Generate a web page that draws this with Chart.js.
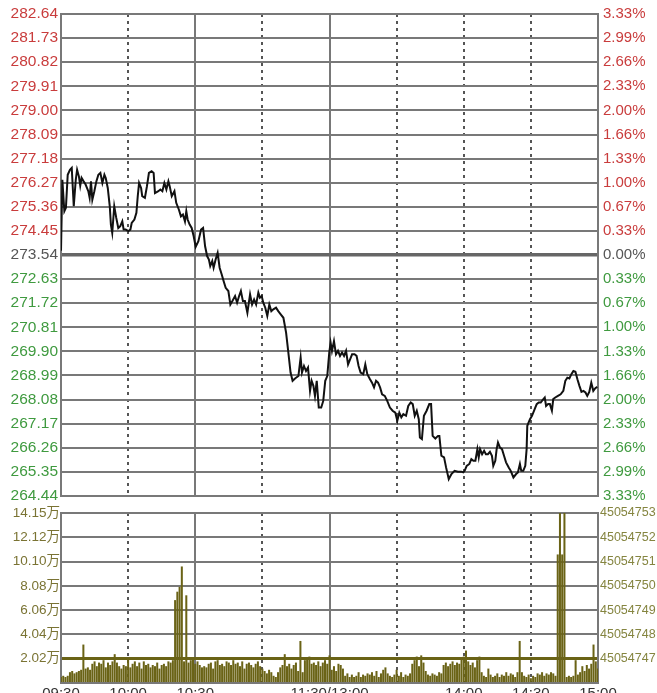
<!DOCTYPE html>
<html>
<head>
<meta charset="utf-8">
<script src="https://cdn.jsdelivr.net/npm/chart.js@4.4.0/dist/chart.umd.min.js"></script>
<style>
html, body { margin: 0; padding: 0; background: #fff; overflow: hidden; }
#wrap { position: relative; width: 657px; height: 693px; overflow: hidden; }
#priceBox { position: absolute; left: 0; top: 0; width: 657px; height: 510px; }
#volBox { position: absolute; left: 0; top: 500px; width: 657px; height: 205px; }
</style>
</head>
<body>
<div id="wrap">
  <div id="priceBox"><canvas id="priceCanvas"></canvas></div>
  <div id="volBox"><canvas id="volCanvas"></canvas></div>
</div>
<script>
// previous close, the 0.00% line
var PREV_CLOSE = 273.54;

// time axis, minutes after 09:30 (lunch break removed)
var timeTicks = [0, 30, 60, 90, 120, 150, 180, 210, 240];
var timeLabels = ['09:30', '10:00', '10:30', '', '11:30/13:00', '', '14:00', '14:30', '15:00'];
var solidTimes = [0, 60, 120, 240];

// price axis labels, top to bottom
var priceTickLabels = ['282.64', '281.73', '280.82', '279.91', '279.00', '278.09', '277.18',
  '276.27', '275.36', '274.45', '273.54', '272.63', '271.72', '270.81', '269.90', '268.99',
  '268.08', '267.17', '266.26', '265.35', '264.44'];
var pctTickLabels = ['3.33%', '2.99%', '2.66%', '2.33%', '2.00%', '1.66%', '1.33%', '1.00%',
  '0.67%', '0.33%', '0.00%', '0.33%', '0.67%', '1.00%', '1.33%', '1.66%', '2.00%', '2.33%',
  '2.66%', '2.99%', '3.33%'];

// intraday price line: minute and price
var priceTimes = [0, 0.6, 1.5, 2.2, 3.0, 4.0, 4.8, 5.7, 6.6, 7.2, 8.0, 8.6, 9.2, 10.1, 11.0,
  12.2, 12.8, 13.4, 14.0, 14.9, 15.8, 16.7, 17.6, 18.5, 19.4, 20.0, 20.9, 21.8, 22.3, 22.9,
  23.8, 24.7, 25.6, 26.5, 27.4, 28.0, 28.9, 30.1, 31.0, 31.6, 32.8, 33.7, 34.3, 34.9, 35.8,
  36.3, 37.5, 38.4, 39.3, 40.5, 41.4, 42.0, 43.5, 44.4, 45.3, 46.2, 47.1, 48.0, 48.6, 49.5,
  50.7, 51.5, 52.7, 53.6, 54.5, 55.4, 56.0, 56.6, 57.5, 58.4, 59.3, 60.2, 61.4, 62.6, 63.5,
  64.4, 65.3, 66.1, 66.7, 67.6, 68.2, 69.1, 70.0, 70.9, 71.8, 72.7, 73.6, 74.8, 75.7, 76.6,
  77.8, 78.7, 79.6, 80.4, 81.3, 82.2, 83.3, 84.5, 85.4, 86.3, 87.2, 88.2, 88.9, 89.7, 90.4,
  91.3, 92.2, 93.1, 94.0, 94.9, 96.1, 97.1, 98.2, 99.4, 100.6, 101.6, 102.6, 103.5, 104.6,
  106.1, 107.1, 107.7, 108.6, 109.5, 110.4, 111.3, 112.0, 112.8, 113.5, 114.3, 115.2, 116.3,
  117.2, 118.1, 119.0, 119.9, 120.5, 121.1, 122.0, 122.9, 123.8, 124.7, 125.6, 126.5, 127.4,
  128.3, 129.2, 130.1, 131.2, 132.1, 133.0, 133.9, 135.1, 136.0, 136.9, 138.1, 139.0, 139.9,
  140.8, 141.7, 142.6, 143.5, 144.7, 145.8, 147.0, 148.2, 149.4, 150.3, 151.2, 152.1, 153.0,
  154.2, 155.2, 156.3, 157.2, 158.1, 159.0, 159.9, 160.4, 161.3, 162.2, 163.4, 164.6, 165.4,
  166.1, 167.3, 168.5, 169.1, 170.0, 171.2, 172.1, 173.3, 174.5, 175.9, 177.4, 178.9, 179.8,
  180.4, 181.3, 182.5, 183.4, 184.3, 185.2, 186.1, 186.7, 187.3, 188.2, 189.1, 189.9, 190.8,
  191.7, 192.6, 193.2, 194.1, 194.7, 195.3, 196.2, 197.1, 198.0, 198.9, 200.1, 201.0, 202.2,
  203.4, 204.2, 205.1, 205.7, 206.6, 207.5, 208.1, 208.4, 209.6, 210.5, 211.7, 212.6, 213.5,
  214.4, 215.3, 216.2, 216.8, 217.7, 218.5, 219.4, 220.0, 220.9, 222.1, 223.3, 224.5, 225.4,
  226.3, 227.2, 228.1, 229.0, 229.9, 230.8, 231.7, 232.6, 233.5, 234.4, 235.2, 236.1, 237.0,
  237.9, 238.8, 239.7];
var prices = [273.70, 276.38, 275.19, 275.32, 276.57, 276.76, 276.83, 275.38, 276.38, 276.76,
  276.51, 276.16, 276.45, 276.32, 276.20, 275.95, 275.70, 276.32, 275.63, 275.95, 276.32,
  276.57, 276.64, 276.26, 276.57, 276.45, 276.07, 275.38, 274.69, 274.38, 275.38, 274.94,
  274.56, 274.63, 274.81, 274.50, 274.50, 274.44, 274.50, 274.75, 274.88, 275.13, 275.76,
  276.26, 276.07, 275.76, 275.70, 276.13, 276.64, 276.70, 276.64, 275.88, 275.95, 276.01,
  275.95, 276.26, 276.01, 276.32, 276.13, 275.76, 275.95, 275.51, 275.25, 275.00, 275.07,
  274.81, 275.19, 274.88, 274.69, 274.56, 274.25, 273.85, 274.06, 274.50, 274.56, 273.87,
  273.50, 273.37, 273.12, 273.31, 273.06, 273.37, 273.62, 273.06, 272.81, 272.55, 272.30,
  272.18, 271.67, 271.80, 271.99, 271.74, 271.99, 272.18, 271.80, 271.80, 271.36, 272.05,
  271.67, 271.86, 271.67, 272.12, 271.93, 271.99, 271.74, 271.55, 271.24, 271.67, 271.42,
  271.49, 271.55, 271.42, 271.30, 271.17, 270.61, 269.86, 269.10, 268.79, 268.88, 268.97,
  269.67, 269.10, 269.35, 269.16, 269.29, 268.41, 268.79, 268.60, 268.22, 268.79, 267.78,
  267.78, 268.03, 268.79, 268.97, 269.86, 270.23, 269.92, 270.29, 269.79, 269.92, 269.73,
  269.86, 269.73, 269.92, 269.41, 269.60, 269.79, 269.79, 269.73, 269.35, 269.10, 269.04,
  269.41, 269.04, 268.85, 268.72, 268.54, 268.79, 268.72, 268.54, 268.28, 268.22, 268.03,
  267.78, 267.66, 267.59, 267.28, 267.59, 267.41, 267.53, 267.47, 267.84, 267.97, 267.91,
  267.47, 267.66, 267.34, 266.65, 266.59, 267.47, 267.66, 267.91, 267.91, 266.71, 266.61,
  266.71, 266.71, 265.96, 265.90, 265.52, 265.08, 265.27, 265.39, 265.36, 265.36, 265.33,
  265.39, 265.58, 265.65, 265.83, 265.77, 265.77, 266.21, 265.90, 266.21, 266.02, 266.15,
  266.02, 266.02, 266.11, 265.96, 265.58, 265.77, 266.21, 266.46, 266.27, 266.21, 265.96,
  265.71, 265.52, 265.39, 265.14, 265.27, 265.33, 265.65, 265.39, 265.39, 265.58, 266.21,
  267.09, 267.34, 267.47, 267.72, 267.91, 267.97, 267.97, 268.07, 268.16, 267.84, 267.91,
  267.91, 267.66, 268.10, 268.16, 268.22, 268.28, 268.41, 268.79, 268.91, 268.88, 269.04,
  269.16, 269.13, 268.85, 268.60, 268.37, 268.41, 268.35, 268.22, 268.37, 268.72, 268.41,
  268.51, 268.56];

// volume per minute (万), minute 0 .. 240
var volumes = [
  0.5, 0.6, 0.5, 0.6, 0.9, 1.0, 0.8, 0.9, 1.0, 1.1,
  3.2, 1.2, 1.3, 1.1, 1.6, 1.8, 1.4, 1.7, 1.6, 1.9,
  1.3, 1.7, 1.5, 1.8, 2.4, 1.7, 1.4, 1.2, 1.5, 1.4,
  2.1, 1.3, 1.6, 1.8, 1.4, 1.7, 1.2, 1.8, 1.5, 1.6,
  1.3, 1.5, 1.4, 1.7, 1.2, 1.5, 1.6, 1.4, 1.8, 1.7,
  1.9, 6.9, 7.6, 8.0, 9.7, 1.8, 7.3, 1.7, 1.9, 2.0,
  1.6, 1.8, 1.5, 1.3, 1.4, 1.3, 1.6, 1.7, 1.2, 1.8,
  1.9, 1.5, 1.6, 1.4, 1.8, 1.7, 1.5, 1.9, 1.6, 1.7,
  1.4, 1.8, 1.2, 1.6, 1.7, 1.5, 1.3, 1.6, 1.8, 1.4,
  1.2, 1.0, 0.8, 1.1, 0.9, 0.6, 0.5, 0.9, 1.3, 1.5,
  2.4, 1.4, 1.6, 1.2, 1.5, 1.7, 1.0, 3.5, 0.9, 1.9,
  2.1, 2.2, 1.6, 1.7, 1.5, 1.8, 1.4, 1.7, 1.9, 1.6,
  2.3, 1.1, 1.4, 1.0, 1.6, 1.5, 1.2, 0.6, 0.8, 0.5,
  0.7, 0.5, 0.6, 0.9, 0.5, 0.7, 0.6, 0.8, 0.7, 0.9,
  0.6, 1.0, 0.5, 0.8, 1.1, 1.3, 0.8, 0.6, 0.5, 0.7,
  1.1, 0.6, 0.9, 0.5, 0.7, 0.6, 0.8, 1.6, 1.9, 2.2,
  1.4, 2.3, 1.7, 1.0, 0.7, 0.6, 0.8, 0.7, 0.6, 0.9,
  0.8, 1.5, 1.7, 1.4, 1.6, 1.8, 1.5, 1.7, 1.6, 2.0,
  2.2, 2.7, 1.8, 1.5, 1.7, 1.3, 1.9, 2.2, 0.9, 0.6,
  0.5, 1.2, 0.7, 0.5, 0.6, 0.8, 0.5, 0.7, 0.6, 0.9,
  0.6, 0.8, 0.7, 0.5, 0.9, 3.5, 0.9, 0.6, 0.5, 0.7,
  0.4, 0.6, 0.5, 0.8, 0.7, 0.9, 0.6, 0.8, 0.7, 0.9,
  0.8, 0.6, 10.7, 15.0, 10.7, 15.0, 0.5, 0.6, 0.5, 0.6,
  1.9, 0.7, 0.9, 1.4, 1.0, 1.5, 1.2, 1.6, 3.2, 1.8,
  1.2
];

// volume axis
var VOL_MAX = 14.15;
var volTickValues = [0, 2.02, 4.04, 6.06, 8.08, 10.10, 12.12, 14.15];
var volTickLabels = ['', '2.02万', '4.04万', '6.06万', '8.08万', '10.10万', '12.12万', '14.15万'];
var volRightLabels = ['', '45054747', '45054748', '45054749', '45054750', '45054751', '45054752', '45054753'];

var RED = '#c93c3c';
var GREEN = '#3f9a3f';
var GREY_LINE = '#787878';
var DOT_LINE = '#555555';
var OLIVE = '#6a6316';

Chart.defaults.font.family = "'Liberation Sans', Arial, 'Noto Sans CJK SC', sans-serif";
Chart.defaults.animation = false;

function isPrevClose(v) {
    return Math.abs(v - PREV_CLOSE) < 0.001;
}

function priceColor(v) {
    if (isPrevClose(v)) return '#555555';
    return v > PREV_CLOSE ? RED : GREEN;
}

function priceIndex(v) {
    for (var i = 0; i < priceTickLabels.length; i++) {
        if (Math.abs(parseFloat(priceTickLabels[i]) - v) < 0.001) return i;
    }
    return -1;
}

function volIndex(v) {
    for (var i = 0; i < volTickValues.length; i++) {
        if (Math.abs(volTickValues[i] - v) < 0.001) return i;
    }
    return -1;
}

// time axis shared by both panels
function timeAxis(showLabels, height) {
    return {
        type: 'linear',
        min: 0,
        max: 240,
        offset: false,
        afterBuildTicks: function (axis) {
            axis.ticks = timeTicks.map(function (t) { return { value: t }; });
        },
        afterFit: function (axis) { axis.height = height; },
        ticks: {
            display: showLabels,
            autoSkip: false,
            maxRotation: 0,
            padding: 2,
            color: '#333333',
            font: { size: 15 },
            callback: function (value) {
                return timeLabels[timeTicks.indexOf(value)];
            }
        },
        grid: {
            offset: false,
            drawTicks: false,
            lineWidth: 2,
            color: function (ctx) {
                return ctx.tick && solidTimes.indexOf(ctx.tick.value) < 0 ? DOT_LINE : GREY_LINE;
            }
        },
        border: {
            color: GREY_LINE,
            width: 2,
            dash: function (ctx) {
                return ctx.tick && solidTimes.indexOf(ctx.tick.value) < 0 ? [3, 4] : [];
            }
        }
    };
}

// price panel
var priceAscending = priceTickLabels.map(parseFloat).reverse();

new Chart(document.getElementById('priceCanvas').getContext('2d'), {
    type: 'line',
    data: {
        datasets: [{
            data: priceTimes.map(function (t, i) { return { x: t, y: prices[i] }; }),
            borderColor: '#111111',
            borderWidth: 2,
            pointRadius: 0,
            tension: 0
        }]
    },
    options: {
        responsive: true,
        maintainAspectRatio: false,
        layout: { padding: { top: 14 } },
        plugins: { legend: { display: false }, tooltip: { enabled: false } },
        scales: {
            x: timeAxis(false, 13),
            y: {
                position: 'left',
                min: 264.44,
                max: 282.64,
                afterBuildTicks: function (axis) {
                    axis.ticks = priceAscending.map(function (v) { return { value: v }; });
                },
                afterFit: function (axis) { axis.width = 61; },
                ticks: {
                    autoSkip: false,
                    padding: 3,
                    font: { size: 15.5 },
                    color: function (ctx) { return priceColor(ctx.tick.value); },
                    callback: function (value) { return priceTickLabels[priceIndex(value)]; }
                },
                grid: {
                    drawTicks: false,
                    color: function (ctx) {
                        return ctx.tick && isPrevClose(ctx.tick.value) ? '#666666' : GREY_LINE;
                    },
                    lineWidth: function (ctx) {
                        return ctx.tick && isPrevClose(ctx.tick.value) ? 3.5 : 2;
                    }
                },
                border: { color: GREY_LINE, width: 2 }
            },
            y2: {
                position: 'right',
                min: 264.44,
                max: 282.64,
                afterBuildTicks: function (axis) {
                    axis.ticks = priceAscending.map(function (v) { return { value: v }; });
                },
                afterFit: function (axis) { axis.width = 59; },
                ticks: {
                    autoSkip: false,
                    padding: 5,
                    font: { size: 15 },
                    color: function (ctx) { return priceColor(ctx.tick.value); },
                    callback: function (value) { return pctTickLabels[priceIndex(value)]; }
                },
                grid: { drawOnChartArea: false, drawTicks: false },
                border: { color: GREY_LINE, width: 2 }
            }
        }
    }
});

// volume panel
new Chart(document.getElementById('volCanvas').getContext('2d'), {
    type: 'bar',
    data: {
        datasets: [{
            data: volumes.map(function (v, i) { return { x: i, y: v }; }),
            backgroundColor: OLIVE,
            borderWidth: 0,
            barPercentage: 0.9,
            categoryPercentage: 1
        }]
    },
    options: {
        responsive: true,
        maintainAspectRatio: false,
        layout: { padding: { top: 13 } },
        plugins: { legend: { display: false }, tooltip: { enabled: false } },
        scales: {
            x: timeAxis(true, 22),
            y: {
                position: 'left',
                min: 0,
                max: VOL_MAX,
                afterBuildTicks: function (axis) {
                    axis.ticks = volTickValues.map(function (v) { return { value: v }; });
                },
                afterFit: function (axis) { axis.width = 61; },
                ticks: {
                    autoSkip: false,
                    padding: 1,
                    font: { size: 13.5 },
                    color: '#7a7333',
                    callback: function (value) { return volTickLabels[volIndex(value)]; }
                },
                grid: {
                    drawTicks: false,
                    color: function (ctx) {
                        return ctx.tick && Math.abs(ctx.tick.value - 2.02) < 0.001 ? OLIVE : GREY_LINE;
                    },
                    lineWidth: function (ctx) {
                        return ctx.tick && Math.abs(ctx.tick.value - 2.02) < 0.001 ? 3 : 2;
                    }
                },
                border: { color: GREY_LINE, width: 2 }
            },
            y2: {
                position: 'right',
                min: 0,
                max: VOL_MAX,
                afterBuildTicks: function (axis) {
                    axis.ticks = volTickValues.map(function (v) { return { value: v }; });
                },
                afterFit: function (axis) { axis.width = 59; },
                ticks: {
                    autoSkip: false,
                    padding: 2,
                    font: { size: 12.5 },
                    color: '#858540',
                    callback: function (value) { return volRightLabels[volIndex(value)]; }
                },
                grid: { drawOnChartArea: false, drawTicks: false },
                border: { color: GREY_LINE, width: 2 }
            }
        }
    }
});
</script>
</body>
</html>
